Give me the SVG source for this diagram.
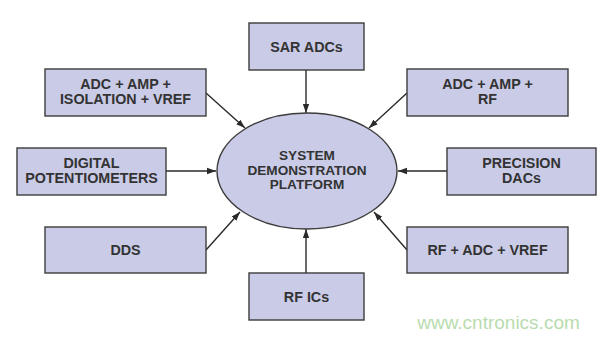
<svg xmlns="http://www.w3.org/2000/svg" width="600" height="338" viewBox="0 0 600 338">
<style>
.box{fill:#c9cbe7;stroke:#3c3c3c;stroke-width:1.4}
.t{font-family:"Liberation Sans",Arial,sans-serif;font-weight:bold;font-size:14.3px;fill:#333;text-anchor:middle}
.e{font-size:13.6px}
.c{stroke:#2a2a2a;stroke-width:1.4;fill:none;marker-end:url(#ah)}
</style>
<defs>
<marker id="ah" viewBox="0 0 10 10" refX="10" refY="5" markerWidth="9" markerHeight="9" markerUnits="userSpaceOnUse" orient="auto">
<path d="M0,1.5 L10,5 L0,8.5 Z" fill="#2a2a2a"/>
</marker>
</defs>
<rect width="600" height="338" fill="#fff"/>
<g id="connectors">
<line class="c" x1="306" y1="70" x2="306" y2="113"/>
<line class="c" x1="306" y1="273" x2="306" y2="229"/>
<line class="c" x1="206" y1="93" x2="245" y2="128"/>
<line class="c" x1="407" y1="93" x2="369" y2="128"/>
<line class="c" x1="166" y1="171" x2="216" y2="171"/>
<line class="c" x1="447" y1="171" x2="398" y2="171"/>
<line class="c" x1="206" y1="250" x2="240" y2="212"/>
<line class="c" x1="407" y1="250" x2="374" y2="212"/>
</g>
<g id="center">
<ellipse class="box" cx="307" cy="171" rx="90" ry="58"/>
<text class="t e" x="307" y="160">SYSTEM</text>
<text class="t e" x="307" y="174.5">DEMONSTRATION</text>
<text class="t e" x="307" y="189">PLATFORM</text>
</g>
<g id="sar">
<rect class="box" x="249" y="23" width="115" height="47"/>
<text class="t" x="306.5" y="52">SAR ADCs</text>
</g>
<g id="iso">
<rect class="box" x="45" y="69" width="161" height="47"/>
<text class="t" x="125.5" y="89">ADC + AMP +</text>
<text class="t" x="125.5" y="104">ISOLATION + VREF</text>
</g>
<g id="rf1">
<rect class="box" x="407" y="69" width="161" height="47"/>
<text class="t" x="487.5" y="89">ADC + AMP +</text>
<text class="t" x="487.5" y="104">RF</text>
</g>
<g id="digpot">
<rect class="box" x="17" y="148" width="149" height="47"/>
<text class="t" x="91.5" y="168">DIGITAL</text>
<text class="t" x="91.5" y="183">POTENTIOMETERS</text>
</g>
<g id="dacs">
<rect class="box" x="447" y="148" width="149" height="47"/>
<text class="t" x="521.5" y="168">PRECISION</text>
<text class="t" x="521.5" y="183">DACs</text>
</g>
<g id="dds">
<rect class="box" x="45" y="227" width="161" height="46"/>
<text class="t" x="125.5" y="255">DDS</text>
</g>
<g id="rfadc">
<rect class="box" x="407" y="227" width="161" height="46"/>
<text class="t" x="487.5" y="255">RF + ADC + VREF</text>
</g>
<g id="rfics">
<rect class="box" x="249" y="273" width="115" height="47"/>
<text class="t" x="306.5" y="302">RF ICs</text>
</g>
<text x="498.5" y="329" font-family="Liberation Sans,Arial,sans-serif" font-size="19" fill="#b9dcae" text-anchor="middle">www.cntronics.com</text>
</svg>
